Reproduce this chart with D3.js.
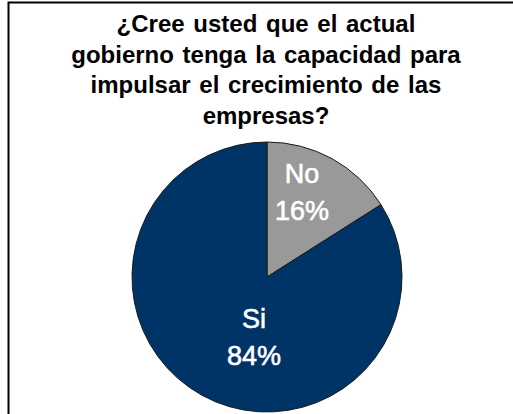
<!DOCTYPE html>
<html><head><meta charset="utf-8">
<script src="https://cdn.jsdelivr.net/npm/d3@7"></script>
<style>body{margin:0;background:#fff;}svg{display:block;}</style>
</head><body>
<svg id="c" width="513" height="414"></svg>
<script>
const titleLines = ["¿Cree usted que el actual","gobierno tenga la capacidad para","impulsar el crecimiento de las","empresas?"];
const categories = ["No","Si"];
const values = [16,84];
const colors = ["#999999","#003366"];

const svg = d3.select("#c");
svg.append("rect").attr("x",0).attr("y",0).attr("width",513).attr("height",414).attr("fill","#fff");
svg.append("path").attr("d","M8.5,414 V2.5 H513").attr("fill","none").attr("stroke","#000").attr("stroke-width",2);

const t = svg.append("text").attr("text-anchor","middle")
  .attr("font-family","Liberation Sans, Arial, sans-serif").attr("font-size",24).attr("font-weight","bold")
  .attr("word-spacing",2).attr("fill","#000");
titleLines.forEach((l,i)=>t.append("tspan").attr("x",266).attr("y",32+i*30.5).text(l));

const cx=267, cy=277, r=135;
const pie = d3.pie().sort(null).value(d=>d.v)(categories.map((c,i)=>({c,v:values[i]})));
const arc = d3.arc().innerRadius(0).outerRadius(r);
const g = svg.append("g").attr("transform",`translate(${cx},${cy})`);
g.selectAll("path").data(pie).join("path").attr("d",arc)
  .attr("fill",(d,i)=>colors[i]).attr("stroke","#1a1a1a").attr("stroke-width",1);
const labelPos = [[35,-94],[-13,51]];
pie.forEach((d,i)=>{
  const tx = g.append("text").attr("text-anchor","middle").attr("fill","#fff")
    .attr("stroke","#fff").attr("stroke-width",0.6)
    .attr("font-family","Liberation Sans, Arial, sans-serif").attr("font-size",27);
  tx.append("tspan").attr("x",labelPos[i][0]).attr("y",labelPos[i][1]).text(categories[i]);
  tx.append("tspan").attr("x",labelPos[i][0]).attr("y",labelPos[i][1]+37).text(values[i]+"%");
});
</script>
</body></html>
